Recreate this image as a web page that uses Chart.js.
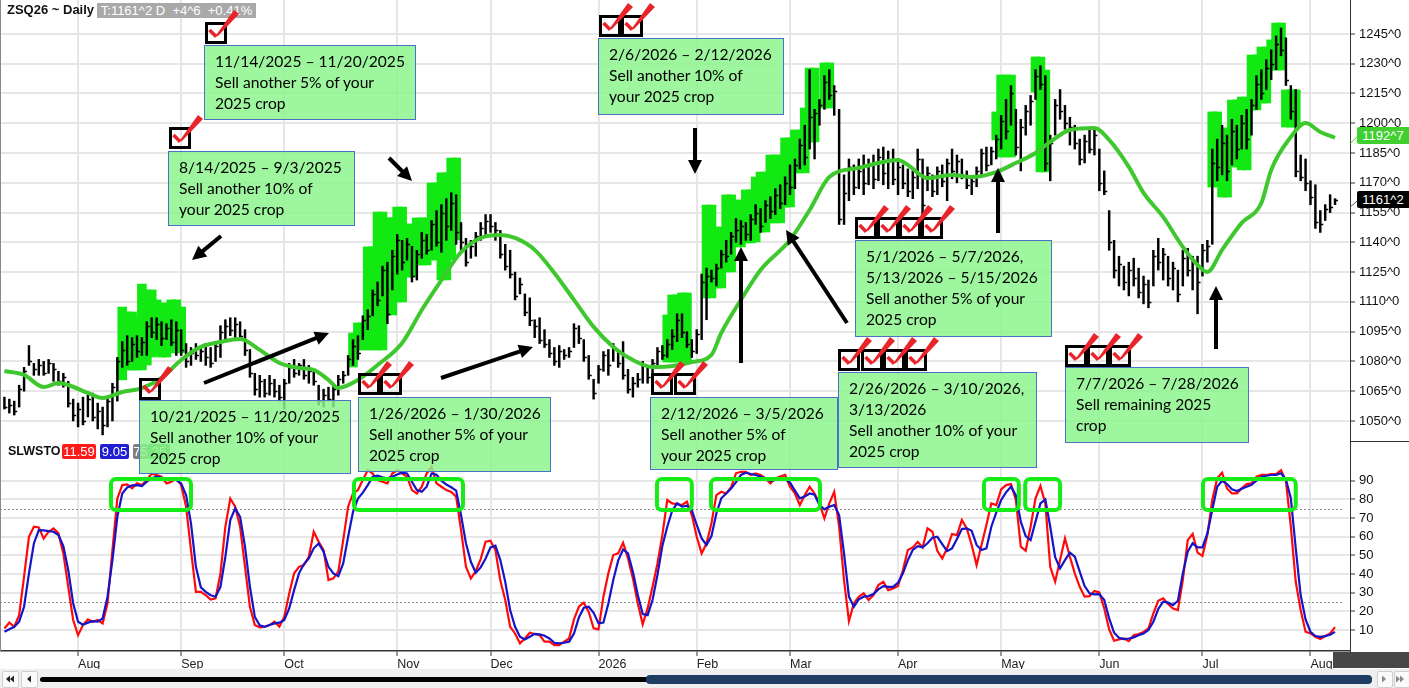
<!DOCTYPE html>
<html><head><meta charset="utf-8">
<script src="https://cdn.jsdelivr.net/npm/chart.js@4.4.1/dist/chart.umd.min.js"></script>
<style>
html,body{margin:0;padding:0;background:#fff;}
#wrap{position:relative;width:1409px;height:688px;overflow:hidden;background:#fff;font-family:"Liberation Sans",Arial,sans-serif;}
canvas{position:absolute;left:0;}
#c1{top:0;} #c2{top:441px;}
.abs{position:absolute;}
.note{position:absolute;background:rgba(140,245,140,0.84);border:1px solid #4a72c8;box-sizing:border-box;font-family:Lato,"Open Sans",sans-serif;font-size:15.6px;line-height:21px;color:#000;padding:5px 0 0 10px;white-space:nowrap;}
.tag{position:absolute;color:#fff;font-size:13px;line-height:15px;height:15px;text-align:center;border-radius:2px;}
</style></head>
<body>
<div id="wrap">
<canvas id="c1" width="1409" height="441"></canvas>
<canvas id="c2" width="1409" height="229"></canvas>
<div class="abs" style="left:0;top:0;width:1px;height:651px;background:#8a8a8a"></div>
<div class="abs" style="left:1350px;top:441px;width:59px;height:1px;background:#333"></div>
<div class="abs" style="left:7px;top:2px;font-weight:bold;font-size:13px;line-height:16px;color:#111">ZSQ26 ~ Daily</div>
<div class="abs" style="left:97px;top:3px;width:159px;height:15px;background:#a9a9a9;color:#fff;font-size:13px;line-height:15px;white-space:pre;text-align:center">T:1161^2 D  +4^6  +0.41%</div>
<div class="abs" style="left:8px;top:444px;font-weight:bold;font-size:12.5px;line-height:15px;color:#111">SLWSTO</div>
<div class="tag" style="left:62px;top:444px;width:34px;background:#ff1a1a">11.59</div>
<div class="tag" style="left:100px;top:444px;width:29px;background:#1f1fcf">9.05</div>
<div class="tag" style="left:133px;top:444px;width:15px;background:#7f7f7f">75</div>
<div class="tag" style="left:148px;top:444px;width:22px;background:#3c963c">25</div>

<div class="note" style="left:204px;top:45px;width:212px;height:75px">11/14/2025 – 11/20/2025<br>Sell another 5% of your<br>2025 crop</div>
<div class="note" style="left:168px;top:151px;width:187px;height:75px">8/14/2025 – 9/3/2025<br>Sell another 10% of<br>your 2025 crop</div>
<div class="note" style="left:598px;top:38px;width:186px;height:77px">2/6/2026 – 2/12/2026<br>Sell another 10% of<br>your 2025 crop</div>
<div class="note" style="left:139px;top:400px;width:212px;height:74px">10/21/2025 – 11/20/2025<br>Sell another 10% of your<br>2025 crop</div>
<div class="note" style="left:358px;top:397px;width:193px;height:75px">1/26/2026 – 1/30/2026<br>Sell another 5% of your<br>2025 crop</div>
<div class="note" style="left:650px;top:397px;width:188px;height:73px">2/12/2026 – 3/5/2026<br>Sell another 5% of<br>your 2025 crop</div>
<div class="note" style="left:838px;top:372px;width:199px;height:96px">2/26/2026 – 3/10/2026,<br>3/13/2026<br>Sell another 10% of your<br>2025 crop</div>
<div class="note" style="left:855px;top:240px;width:197px;height:97px">5/1/2026 – 5/7/2026,<br>5/13/2026 – 5/15/2026<br>Sell another 5% of your<br>2025 crop</div>
<div class="note" style="left:1065px;top:367px;width:184px;height:76px">7/7/2026 – 7/28/2026<br>Sell remaining 2025<br>crop</div>

<div id="maLbl" class="tag" style="left:1357px;width:52px;height:17px;line-height:17px;background:#3fcf2f;border-radius:2px 0 0 2px">1192^7</div>
<div id="clLbl" class="tag" style="left:1357px;width:52px;height:17px;line-height:17px;background:#000;border-radius:2px 0 0 2px">1161^2</div>

<div class="abs" style="left:1333px;top:652px;width:76px;height:16px;background:#474747"></div>
<div class="abs" style="left:0;top:669px;width:1409px;height:19px;background:#efefef"></div>
<div class="abs" style="left:2px;top:671px;width:15px;height:15px;background:#fafafa;border:1px solid #cfcfcf;border-radius:2px"></div>
<div class="abs" style="left:21px;top:671px;width:15px;height:15px;background:#fafafa;border:1px solid #cfcfcf;border-radius:2px"></div>
<div class="abs" style="left:40px;top:677px;width:610px;height:5px;background:#000;border-radius:3px"></div>
<div class="abs" style="left:646px;top:675px;width:726px;height:9px;background:#1f3d63;border-radius:4px"></div>
<div class="abs" style="left:1377px;top:671px;width:14px;height:15px;background:#fafafa;border:1px solid #cfcfcf;border-radius:2px"></div>
<div class="abs" style="left:1394px;top:671px;width:14px;height:15px;background:#fafafa;border:1px solid #cfcfcf;border-radius:2px"></div>

<svg id="ov" class="abs" style="left:0;top:0" width="1409" height="688"></svg>
</div>

<script>
// ---------- data ----------
const monthLabels = ['Aug','Sep','Oct','Nov','Dec','2026','Feb','Mar','Apr','May','Jun','Jul','Aug'];
const monthIdx    = [15, 36, 57, 80, 99, 121, 141, 160, 182, 203, 223, 244, 266];
const priceTicks  = [1050,1065,1080,1095,1110,1125,1140,1155,1170,1185,1200,1215,1230,1245];
const stochTicks  = [10,20,30,40,50,60,70,80,90];
const stochLevels = [25, 75];

const high = [1062,1061,1060,1068,1077,1088,1079,1081,1080,1081,
1079,1075,1074,1070,1061,1059,1062,1063,1064,1059,
1057,1062,1069,1082,1090,1093,1092,1093,1092,1100,
1102,1102,1100,1099,1101,1100,1096,1089,1087,1089,
1087,1089,1087,1089,1098,1101,1102,1102,1100,1096,
1086,1074,1073,1071,1073,1071,1068,1071,1079,1081,
1079,1081,1078,1076,1068,1066,1067,1068,1073,1075,
1083,1091,1093,1103,1106,1116,1120,1128,1130,1136,
1144,1141,1142,1138,1136,1145,1144,1151,1156,1159,
1162,1165,1164,1150,1142,1141,1145,1150,1154,1154,
1150,1146,1139,1136,1125,1122,1114,1112,1101,1102,
1096,1091,1087,1088,1086,1087,1099,1098,1091,1083,
1071,1078,1085,1086,1089,1085,1090,1076,1072,1074,
1080,1077,1081,1087,1088,1091,1096,1104,1104,1095,
1091,1096,1124,1127,1126,1129,1136,1141,1145,1152,
1151,1150,1154,1159,1157,1161,1163,1167,1169,1173,
1179,1182,1192,1199,1227,1207,1212,1224,1227,1219,
1207,1174,1182,1179,1182,1184,1182,1184,1187,1188,
1186,1187,1182,1179,1177,1176,1187,1182,1178,1174,
1178,1179,1182,1187,1184,1182,1176,1173,1178,1187,
1188,1188,1194,1204,1212,1219,1207,1202,1209,1214,
1227,1229,1224,1194,1212,1217,1209,1203,1199,1192,
1194,1197,1197,1187,1176,1156,1141,1133,1128,1130,
1132,1127,1123,1121,1136,1142,1137,1133,1130,1126,
1136,1137,1133,1133,1139,1141,1187,1192,1199,1194,
1202,1199,1204,1207,1212,1224,1227,1232,1237,1244,
1248,1243,1219,1217,1184,1182,1171,1169,1156,1159,
1164,1162];

const low = [1056,1054,1053,1057,1065,1078,1073,1073,1073,1074,
1070,1068,1067,1057,1050,1047,1048,1052,1050,1046,
1043,1047,1050,1060,1077,1078,1080,1082,1083,1083,
1092,1091,1088,1091,1088,1083,1083,1077,1078,1081,
1080,1078,1077,1080,1082,1091,1093,1092,1091,1083,
1072,1063,1062,1062,1063,1062,1060,1056,1069,1072,
1073,1071,1069,1068,1058,1057,1060,1057,1063,1069,
1073,1078,1081,1091,1096,1103,1108,1113,1099,1116,
1124,1126,1131,1120,1121,1132,1134,1136,1138,1135,
1141,1146,1139,1136,1128,1132,1133,1141,1144,1145,
1141,1132,1126,1122,1111,1114,1103,1098,1092,1089,
1087,1082,1078,1077,1081,1082,1087,1089,1080,1071,
1061,1069,1075,1073,1080,1077,1071,1064,1062,1067,
1069,1069,1073,1077,1081,1082,1086,1090,1092,1087,
1082,1084,1091,1101,1120,1118,1127,1130,1134,1140,
1139,1141,1141,1149,1145,1150,1152,1154,1157,1159,
1164,1167,1177,1179,1187,1182,1199,1207,1212,1204,
1149,1149,1161,1164,1167,1164,1169,1167,1171,1169,
1167,1169,1164,1167,1163,1162,1167,1153,1166,1163,
1164,1168,1161,1172,1170,1172,1167,1164,1168,1174,
1176,1179,1182,1187,1192,1199,1184,1176,1194,1199,
1212,1217,1176,1171,1194,1202,1197,1189,1187,1179,
1180,1185,1184,1166,1164,1136,1122,1118,1116,1113,
1118,1112,1109,1107,1118,1126,1121,1118,1116,1110,
1118,1123,1116,1104,1123,1130,1139,1171,1174,1171,
1179,1182,1187,1187,1194,1207,1212,1217,1222,1227,
1234,1219,1202,1173,1171,1166,1159,1147,1145,1151,
1155,1159];

const close = [1057,1058,1055,1066,1075,1080,1076,1078,1074,1079,
1076,1070,1072,1059,1053,1056,1050,1061,1052,1055,
1048,1060,1067,1080,1086,1080,1089,1085,1090,1098,
1095,1099,1092,1097,1090,1096,1086,1080,1084,1083,
1085,1082,1079,1088,1095,1098,1096,1099,1093,1086,
1074,1066,1070,1064,1069,1065,1062,1069,1077,1074,
1078,1073,1075,1070,1060,1063,1061,1066,1071,1073,
1081,1088,1084,1101,1103,1114,1111,1126,1104,1133,
1141,1130,1139,1123,1134,1141,1136,1149,1140,1155,
1148,1160,1145,1140,1130,1138,1143,1147,1151,1148,
1146,1134,1128,1124,1113,1119,1105,1101,1098,1091,
1089,1084,1080,1085,1083,1085,1097,1092,1082,1073,
1064,1076,1083,1078,1087,1079,1073,1066,1069,1071,
1078,1072,1079,1085,1083,1089,1093,1101,1095,1089,
1085,1094,1120,1123,1122,1127,1134,1133,1143,1146,
1148,1144,1152,1155,1148,1159,1156,1164,1160,1170,
1168,1179,1189,1183,1203,1205,1209,1221,1214,1216,
1152,1165,1178,1168,1176,1170,1179,1172,1183,1175,
1181,1172,1178,1170,1166,1173,1182,1159,1175,1166,
1176,1171,1180,1176,1181,1174,1169,1171,1176,1185,
1179,1186,1192,1201,1196,1215,1188,1198,1206,1211,
1224,1220,1180,1190,1209,1206,1200,1198,1190,1182,
1191,1187,1194,1170,1166,1140,1126,1129,1120,1126,
1122,1115,1119,1110,1133,1130,1134,1122,1127,1114,
1132,1126,1130,1120,1136,1138,1180,1178,1190,1176,
1196,1187,1200,1192,1209,1220,1215,1228,1230,1240,
1237,1222,1206,1176,1173,1170,1163,1150,1149,1157,
1158,1161.25];

// highlighted (signal) bars
const hlIdx  = [24,25,26,27,28,29,30,31,32,33,34,35,36,
 71,72,73,74,75,76,77,78,79,80,81,82,83,84,85,86,87,88,89,90,91,92,
 135,136,137,138,139,
 143,144,145,146,147,148,149,150,151,152,153,154,155,156,157,158,159,160,161,162,163,164,165,167,168,
 202,203,204,205,210,211,212,
 246,247,248,249,250,251,252,253,254,255,256,257,258,259,260,261,262,263];
const hlHigh = [1107.4,1104.9,1104.9,1101.9,1119.0,1116.0,1116.0,1111.0,1109.4,1109.4,1111.0,1111.0,1107.4,
 1094.3,1099.4,1099.4,1137.7,1137.7,1155.3,1155.3,1152.3,1152.3,1157.8,1157.8,1149.2,1149.2,1152.3,1152.3,1152.3,1169.9,1169.9,1175.0,1175.0,1182.5,1182.5,
 1103.4,1113.5,1113.5,1114.5,1114.5,
 1158.8,1158.8,1147.7,1147.7,1163.9,1163.9,1161.3,1161.3,1166.4,1166.4,1172.9,1175.4,1175.4,1184.0,1184.0,1184.0,1192.6,1192.6,1196.6,1196.6,1207.7,1227.8,1227.8,1230.4,1230.4,
 1205.7,1224.3,1224.3,1224.3,1233.4,1233.4,1226.8,
 1205.7,1205.7,1197.6,1197.6,1211.7,1211.7,1213.2,1213.2,1234.4,1234.4,1238.4,1238.4,1242.0,1250.5,1250.5,1216.8,1216.8,1216.8];
const hlLow  = [1070.7,1075.7,1075.7,1075.7,1075.7,1078.2,1082.2,1083.3,1082.2,1082.2,1084.3,1084.3,1084.3,
 1077.2,1085.8,1085.8,1085.8,1085.8,1085.8,1085.8,1103.4,1103.4,1110.0,1110.0,1122.5,1122.5,1128.6,1128.6,1128.6,1131.1,1131.1,1121.0,1121.0,1131.1,1141.2,
 1079.7,1079.7,1079.7,1079.7,1079.7,
 1112.0,1112.0,1117.0,1117.0,1125.1,1125.1,1137.7,1137.7,1139.7,1139.7,1140.2,1145.2,1145.2,1149.8,1149.8,1149.8,1157.8,1157.8,1175.0,1175.0,1175.0,1190.6,1190.6,1207.7,1207.7,
 1191.6,1183.0,1183.0,1183.0,1215.7,1175.5,1175.5,
 1167.9,1167.9,1162.8,1162.8,1178.0,1178.0,1176.5,1176.5,1206.7,1206.7,1210.2,1210.2,1226.8,1226.8,1226.8,1198.1,1198.1,1198.1];

// moving average (read at selected bars)
const maIdx = [0,4,8,11,13,17,20,24,28,32,36,40,44,48,52,56,60,63,66,68,72,76,81,85,89,93,97,101,104,108,
 112,116,120,124,128,132,136,140,144,146,150,154,160,164,168,174,178,182,184,188,193,197,202,206,210,213,217,222,225,229,
 232,236,240,243,245,248,252,256,258,262,265,268,271];
const maVal = [1075.2,1073.2,1067.1,1069.1,1068.1,1064.1,1061.6,1064.6,1066.6,1071.7,1080.7,1087.3,1089.8,1091.3,1085.8,1079.2,1076.7,1075.7,1070.7,1066.6,
 1070.7,1078.2,1089.3,1105.9,1121.0,1135.1,1142.2,1143.7,1142.2,1136.2,1124.6,1111.0,1097.4,1087.3,1080.7,1077.2,1077.7,1079.7,1083.3,1094.3,
 1111.0,1126.1,1141.2,1156.3,1172.9,1177.5,1180.0,1181.5,1179.0,1172.4,1173.9,1172.9,1175.4,1180.0,1185.0,1190.6,1196.6,1197.6,1191.6,1178.0,
 1164.9,1152.8,1137.7,1128.6,1125.1,1136.2,1149.8,1159.8,1176.5,1193.1,1200.1,1195.6,1192.7];

const stochK = [10.9,14,11.8,18,38.6,60,65.4,65,59,62.7,
64.5,61.8,51,33.2,15.4,7.3,12.7,15.7,14.5,15.4,
13.6,24.3,52.9,80.5,87.7,88,86,88.6,87.7,90.4,
93.9,93,92.2,88.6,89.5,91.3,87.7,76.1,52.9,30.5,
30.5,28.7,26.4,27,40.4,65.4,80.5,76.1,65.4,43.9,
22.5,12.7,11.4,11.8,12.7,14.5,11.8,17.1,29.6,40.4,
43.9,44.8,49.3,62.7,57.3,52.9,36.8,37.7,41.3,58.2,
76.1,83.2,85,90.4,95.7,93.9,90.4,89.5,88.6,93.9,
95.7,93.9,92.2,85,83.2,86.8,93.9,97.5,88.6,86.8,
85,84,81.5,63.6,43.9,37.7,41.6,48,57.3,57.9,
52.9,36.5,26.1,11.8,8.2,2.9,5.5,8.6,7.9,7.3,
3.8,3.8,2,2,3.8,5.5,15.7,22.5,24.7,19.8,
10.9,10.4,27.9,40.4,50.2,51.1,56.8,48.4,37.7,24.3,
13.1,21.6,33.2,45.7,60.9,79.7,77.9,77.5,77,78.8,
71.6,60,51.1,56.5,67.2,82.3,84.1,83.2,86.5,94,
94.8,94.8,93.1,94,93.1,91.3,88.6,91.3,92.2,93.1,
86.8,83.2,77,82.3,86.8,83.2,77.9,69.8,77.9,84.1,
65.4,36.8,14.8,24.3,27.9,29.7,26.1,28.8,34.1,35.9,
31.4,32.3,33.6,42.2,52.9,54.3,57.3,54.3,64.5,62.7,
52.5,48.4,53.8,61.5,60.9,69,64.5,55.6,44.8,55.6,
66.3,77.9,77,85.4,87.7,88.2,79.7,54.7,52.5,65.4,
80.6,87.2,77.9,43.9,35.9,47.5,59.1,49.3,40.4,33.2,
27.9,28.2,30.9,30.2,21.6,10.4,4.3,5,5.5,4.1,
7.3,7.9,9,10.9,19,25.7,27,24,21.6,20.7,
36.8,58.2,61.5,51.5,49.7,60.9,79.7,91.3,94.3,85.9,
83.2,83.2,85.9,88.2,88.6,92.2,93.1,93.1,93.6,93.6,
95.7,90,65.4,35.9,20.7,9.1,8.2,6.4,5.2,6.8,
8.2,11.59];

const stochD = [9.1,10.5,11.8,14.5,22.5,40.4,56.4,63.6,63.4,63,
62.7,60.9,55,42.2,24.3,14.5,12.9,14,14.8,14.5,
16.2,27.9,47.5,70.7,83.2,86.4,87.5,87.7,87.2,89.5,
91.3,92.2,91.6,90.7,90.4,90.4,88.6,82.3,67.2,43.9,
32.9,30.5,28.7,27.9,33.2,49.3,68.9,75.2,70.7,54.7,
33.2,17.1,12.5,11.8,12.7,13.6,14,15.4,21.6,31.4,
40.4,45.4,48.4,53.8,56.4,52,43.9,40.4,38.9,45.7,
60,73.4,80.5,83.6,87.7,92.2,92.7,91.8,91.3,92.2,
93.4,94.3,93.9,89.5,85,84.1,86.8,93.9,93.2,90,
88,86.5,84.7,71.6,56.5,46.6,40.7,43.6,48.4,54.3,
55.2,47.5,35.9,20.7,11.8,6.4,5,6.4,8,7.7,
7,5.5,3.2,2.9,3.2,3.8,8.2,16.8,22,22.5,
19.3,13.6,14,24.3,36.8,47.2,53.2,51.1,41.3,28.8,
18.6,18,26.1,39.5,55,65.4,74,77.9,76.1,76.6,
74.3,66.3,59.1,55.6,60.4,72.5,80.6,83.2,85.9,89.3,
93.1,94.3,93.6,93.1,92.2,91.3,90,90.4,91.1,90.9,
89,84.7,80.6,81.5,83.2,82.5,77,74.7,76.1,77,
71.6,51.1,27.9,22.5,26.5,27.9,28.2,29.3,31.8,33.6,
33.2,33.2,35.4,40.4,47.5,52.9,55,54.3,56.5,59.5,
60,56.1,52.3,53.8,58.8,64.1,64.5,63.2,55.6,52.9,
53.8,65.4,72.9,79.7,83.8,86.8,82.3,68.1,60.4,58.2,
68.1,77.9,80,65.4,49,43.1,47.5,51.5,49.3,41.3,
33.6,29.7,29.1,29.3,26.1,16.3,8.6,5.9,5.2,5.5,
6.1,7.2,8.2,10,14.5,21.3,25.2,24.7,23.4,25.7,
40.4,52,56.5,54.3,54.3,61.8,74.3,86.8,90,88.2,
85.4,84.5,85.7,86.8,87.9,90,92.2,92.7,93.1,93.2,
94,90.7,80.6,53.8,28.8,15.7,9.1,6.8,6.4,6.8,
7.5,9.05];

// overbought zones marked on the oscillator (bar-index ranges)
const zoneStart = [21.7, 71.2, 132.9, 143.9, 199.5, 207.9, 244.1];
const zoneEnd   = [38.0, 93.4, 140.0, 166.1, 206.6, 215.0, 263.0];
const zoneTop = 91, zoneBottom = 74.3;

// ---------- charts ----------
Chart.defaults.font.family = "'Liberation Sans', Arial, sans-serif";
const X_MIN = -0.9, X_MAX = 274.05;
const GRID = '#e6e6e6';

const barData = high.map((h, i) => ({x: i, y: [low[i], h]}));
const hlData  = hlIdx.map((x, k) => ({x, y: [hlLow[k], hlHigh[k]]}));
const maData  = maIdx.map((x, k) => ({x, y: maVal[k]}));

const closeTicks = {
  id: 'closeTicks',
  afterDatasetDraw(chart, args) {
    if (args.index !== 1) return;
    const {ctx, scales: {x, y}} = chart;
    ctx.save();
    ctx.strokeStyle = '#000'; ctx.lineWidth = 1.5;
    ctx.beginPath();
    close.forEach((c, i) => {
      const px = x.getPixelForValue(i);
      const py = Math.round(y.getPixelForValue(c)) + 0.5;
      ctx.moveTo(px, py); ctx.lineTo(px + 3, py);
    });
    ctx.stroke();
    ctx.restore();
  }
};

const priceChart = new Chart(document.getElementById('c1'), {
  type: 'bar',
  data: {datasets: [
    {type: 'line', data: maData, borderColor: '#3ec82e', borderWidth: 4, pointRadius: 0, cubicInterpolationMode: 'monotone', order: 0},
    {type: 'bar', data: barData, backgroundColor: '#000', barThickness: 1.8, grouped: false, order: 1},
    {type: 'bar', data: hlData, backgroundColor: '#12e812', barThickness: 9, grouped: false, order: 2}
  ]},
  options: {
    responsive: false, animation: false, events: [],
    layout: {padding: 0},
    plugins: {legend: {display: false}, tooltip: {enabled: false}},
    scales: {
      x: {type: 'linear', min: X_MIN, max: X_MAX, offset: false,
          grid: {color: GRID, lineWidth: 2, drawTicks: false, offset: false},
          border: {display: false}, ticks: {display: false},
          afterBuildTicks: s => { s.ticks = monthIdx.map(v => ({value: v})); },
          afterFit: s => { s.height = 0; }},
      y: {position: 'right', min: 1039.9, max: 1262.1,
          grid: {color: GRID, lineWidth: 2, tickLength: 5, tickColor: '#333', tickWidth: 1},
          border: {color: '#333', width: 1},
          ticks: {font: {size: 13}, color: '#111', padding: 4, autoSkip: false, callback: v => v + '^0'},
          afterBuildTicks: s => { s.ticks = priceTicks.map(v => ({value: v})); },
          afterFit: s => { s.width = 59; s.paddingTop = 0; s.paddingBottom = 0; }}
    }
  },
  plugins: [closeTicks]
});

const refLines = {
  id: 'refLines',
  beforeDatasetsDraw(chart) {
    const {ctx, chartArea: a, scales: {y}} = chart;
    ctx.save(); ctx.strokeStyle = '#8c8c8c'; ctx.lineWidth = 1; ctx.setLineDash([2, 2]);
    stochLevels.forEach(v => {
      const py = Math.round(y.getPixelForValue(v)) + 0.5;
      ctx.beginPath(); ctx.moveTo(a.left, py); ctx.lineTo(a.right - 6, py); ctx.stroke();
    });
    ctx.restore();
  }
};
const zones = {
  id: 'zones',
  afterDatasetsDraw(chart) {
    const {ctx, scales: {x, y}} = chart;
    ctx.save(); ctx.strokeStyle = '#16ec16'; ctx.lineWidth = 4;
    zoneStart.forEach((s, k) => {
      const x1 = x.getPixelForValue(s), x2 = x.getPixelForValue(zoneEnd[k]);
      const y1 = y.getPixelForValue(zoneTop), y2 = y.getPixelForValue(zoneBottom);
      ctx.beginPath(); ctx.roundRect(x1, y1, x2 - x1, y2 - y1, 5); ctx.stroke();
    });
    ctx.restore();
  }
};

new Chart(document.getElementById('c2'), {
  type: 'line',
  data: {datasets: [
    {data: stochK.map((v, i) => ({x: i, y: v})), borderColor: '#ff0a0a', borderWidth: 2.2, pointRadius: 0, tension: 0, order: 1},
    {data: stochD.map((v, i) => ({x: i, y: v})), borderColor: '#1414c8', borderWidth: 2.2, pointRadius: 0, tension: 0, order: 0}
  ]},
  options: {
    responsive: false, animation: false, events: [],
    layout: {padding: 0},
    plugins: {legend: {display: false}, tooltip: {enabled: false}},
    scales: {
      x: {type: 'linear', min: X_MIN, max: X_MAX, offset: false,
          grid: {color: GRID, lineWidth: 2, tickLength: 5, tickColor: '#333', tickWidth: 1},
          border: {color: '#333', width: 1.5},
          ticks: {align: 'start', font: {size: 12.5}, color: '#222', padding: 1, autoSkip: false, maxRotation: 0,
                  callback: (v, i) => monthLabels[i]},
          afterBuildTicks: s => { s.ticks = monthIdx.map(v => ({value: v})); },
          afterFit: s => { s.height = 19; s.paddingLeft = 0; s.paddingRight = 0; }},
      y: {position: 'right', min: -1.2, max: 111.3,
          grid: {color: GRID, lineWidth: 2, tickLength: 5, tickColor: '#333', tickWidth: 1},
          border: {color: '#333', width: 1},
          ticks: {font: {size: 13}, color: '#111', padding: 4, autoSkip: false},
          afterBuildTicks: s => { s.ticks = stochTicks.map(v => ({value: v})); },
          afterFit: s => { s.width = 59; s.paddingTop = 0; s.paddingBottom = 0; }}
    }
  },
  plugins: [refLines, zones]
});

// last-value tags on the price axis
const py = priceChart.scales.y;
const yMA = py.getPixelForValue(maVal[maVal.length - 1]);
const yCl = py.getPixelForValue(close[close.length - 1]);
document.getElementById('maLbl').style.top = (yMA - 11) + 'px';
document.getElementById('clLbl').style.top = (yCl - 9) + 'px';

// ---------- overlay: arrows, check boxes, scroll glyphs ----------
const NS = 'http://www.w3.org/2000/svg';
const ov = document.getElementById('ov');
function el(tag, attrs) { const e = document.createElementNS(NS, tag); for (const k in attrs) e.setAttribute(k, attrs[k]); ov.appendChild(e); return e; }

el('line', {x1: 1350, y1: yMA + 6, x2: 1358, y2: yMA - 2, stroke: '#3fcf2f', 'stroke-width': 1});
el('line', {x1: 1350, y1: yCl + 7, x2: 1357, y2: yCl + 1, stroke: '#555', 'stroke-width': 1});

const arrows = [
  [221,236,192,260],[389,158,412,181],[204,383,329,333],[441,378,533,347],
  [695,128,695,174],[741,363,741,247],[847,323,786,230],[998,233,998,168],[1216,349,1216,286]
];
arrows.forEach(([x1,y1,x2,y2]) => {
  const dx = x2 - x1, dy = y2 - y1, L = Math.hypot(dx, dy), ux = dx / L, uy = dy / L;
  const hl = 14, hw = 7, bx = x2 - ux * hl, by = y2 - uy * hl;
  el('line', {x1, y1, x2: bx + ux * 2, y2: by + uy * 2, stroke: '#000', 'stroke-width': 4});
  el('polygon', {points: `${x2},${y2} ${bx - uy * hw},${by + ux * hw} ${bx + uy * hw},${by - ux * hw}`, fill: '#000'});
});

const checks = [
  [205,22],[169,127],[599,15],[621,15],[139,378],[358,373],[380,373],[651,373],[674,373],
  [838,349],[861,349],[883,349],[905,349],[855,217],[877,217],[899,217],[921,217],
  [1065,345],[1087,345],[1109,345]
];
checks.forEach(([x, y]) => {
  el('rect', {x: x + 1.5, y: y + 1.5, width: 19, height: 19, fill: 'none', stroke: '#000', 'stroke-width': 3});
});
checks.forEach(([x, y]) => {
  el('polyline', {points: `${x+4.5},${y+8} ${x+11},${y+14.5}`, fill: 'none', stroke: '#e8232a', 'stroke-width': 3.5, 'stroke-linecap': 'butt'});
  el('polygon', {points: `${x+9},${y+16} ${x+13.5},${y+13.5} ${x+34},${y-8} ${x+29},${y-12}`, fill: '#e8232a'});
});

// scrollbar glyphs
el('polygon', {points: '6,679 10,675.5 10,682.5', fill: '#222'});
el('polygon', {points: '10,679 14,675.5 14,682.5', fill: '#222'});
el('polygon', {points: '27,679 31,675.5 31,682.5', fill: '#222'});
el('polygon', {points: '1386,679 1382,675.5 1382,682.5', fill: '#888'});
el('polygon', {points: '1400,679 1396,675.5 1396,682.5', fill: '#888'});
el('polygon', {points: '1404,679 1400,675.5 1400,682.5', fill: '#888'});
</script>
</body></html>
